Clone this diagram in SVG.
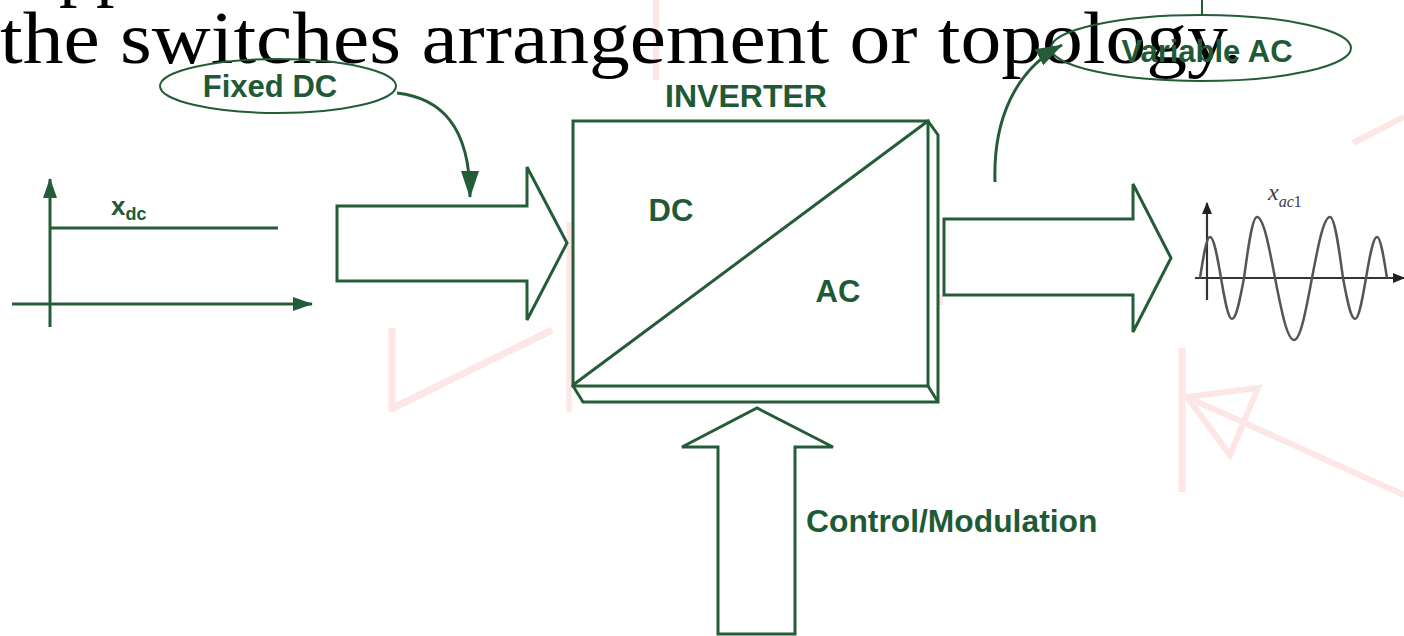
<svg xmlns="http://www.w3.org/2000/svg" width="1404" height="636" viewBox="0 0 1404 636">
  <style>
    .g { fill: none; stroke: #245c38; stroke-width: 3; stroke-linejoin: miter; }
    .gf { fill: #ffffff; stroke: #245c38; stroke-width: 3; stroke-linejoin: miter; }
    .lbl { font-family: "Liberation Sans", Arial, sans-serif; font-weight: bold; fill: #1f5a36; font-size: 31px; }
    .pink { fill: none; stroke: #fde6e6; stroke-width: 6; }
    .title { font-family: "Liberation Serif", "Times New Roman", serif; fill: #000000; font-size: 74px; }
    .ax { stroke: #333333; stroke-width: 2.2; fill: none; }
  </style>
  <defs>
    <marker id="arrG" markerUnits="userSpaceOnUse" markerWidth="28" markerHeight="20" viewBox="0 0 28 20" refX="26" refY="10" orient="auto">
      <path d="M0,1 L27,10 L0,19 Z" fill="#245c38"/>
    </marker>
    <marker id="axG" markerUnits="userSpaceOnUse" markerWidth="20" markerHeight="14" viewBox="0 0 20 14" refX="19" refY="7" orient="auto">
      <path d="M0,0 L20,7 L0,14 Z" fill="#245c38"/>
    </marker>
    <marker id="axK" markerUnits="userSpaceOnUse" markerWidth="12" markerHeight="10" viewBox="0 0 12 10" refX="11" refY="5" orient="auto">
      <path d="M0,0 L12,5 L0,10 Z" fill="#222222"/>
    </marker>
  </defs>

  <rect width="1404" height="636" fill="#ffffff"/>

  <g id="background-traces">
    <line class="pink" x1="656" y1="0" x2="656" y2="80"/>
    <line class="pink" x1="569" y1="222" x2="569" y2="412" style="stroke-width:5"/>
    <line class="pink" x1="392" y1="328" x2="392" y2="412" style="stroke-width:7"/>
    <line class="pink" x1="393" y1="408" x2="552" y2="330" style="stroke-width:7"/>
    <line class="pink" x1="1182" y1="348" x2="1182" y2="492" style="stroke-width:7"/>
    <path class="pink" d="M1187,397 L1258,388 L1230,455 Z"/>
    <line class="pink" x1="1187" y1="397" x2="1404" y2="495"/>
    <line class="pink" x1="1353" y1="143" x2="1404" y2="117"/>
    <rect x="939" y="295" width="4" height="10" fill="#fde6e6"/>
  </g>

  <g id="title">
    <text class="title" x="59" y="-8">pp</text>
    <text class="title" x="0" y="63" textLength="1243" lengthAdjust="spacingAndGlyphs">the switches arrangement or topology.</text>
  </g>

  <g id="dc-graph">
    <line class="g" x1="50" y1="327" x2="50" y2="179" marker-end="url(#axG)"/>
    <line class="g" x1="12" y1="304" x2="312" y2="304" marker-end="url(#axG)"/>
    <line class="g" x1="50" y1="228" x2="278" y2="228"/>
    <text x="111" y="215" font-family="Liberation Sans, Arial, sans-serif" font-weight="bold" font-size="26" fill="#1f5a36">x<tspan font-size="18" dy="5">dc</tspan></text>
  </g>

  <g id="fixed-dc">
    <ellipse class="g" cx="278" cy="86" rx="118" ry="27" style="stroke-width:2"/>
    <text class="lbl" x="270" y="97" text-anchor="middle">Fixed DC</text>
  </g>

  <g id="input-arrow">
    <path class="gf" d="M337,206 H527 V167 L567,243 L527,320 V281 H337 Z"/>
  </g>

  <g id="inverter">
    <text class="lbl" x="746" y="107" text-anchor="middle" style="font-size:32px">INVERTER</text>
    <path class="gf" d="M928,121 L938,135 V402 H583 L573,386 Z"/>
    <rect class="gf" x="573" y="121" width="355" height="265"/>
    <line class="g" x1="573" y1="385" x2="928" y2="121"/>
    <line class="g" x1="928" y1="386" x2="938" y2="402"/>
    <text class="lbl" x="671" y="221" text-anchor="middle">DC</text>
    <text class="lbl" x="838" y="302" text-anchor="middle">AC</text>
  </g>

  <g id="output-arrow">
    <path class="gf" d="M944,219 H1133 V184 L1171,258 L1133,332 V295 H944 Z"/>
  </g>

  <g id="control">
    <path class="gf" d="M718,634 V447 H682 L757,408 L833,447 H795 V634 Z"/>
    <text class="lbl" x="806" y="532" style="font-size:31.8px">Control/Modulation</text>
  </g>

  <g id="variable-ac">
    <line class="g" x1="1202" y1="0" x2="1202" y2="15" style="stroke-width:2"/>
    <ellipse class="g" cx="1201" cy="48" rx="150" ry="33" style="stroke-width:2"/>
    <text class="lbl" x="1207" y="62" text-anchor="middle">Variable AC</text>
  </g>

  <g id="ac-graph">
    <line class="ax" x1="1207" y1="300" x2="1207" y2="203" marker-end="url(#axK)"/>
    <line class="ax" x1="1195" y1="278" x2="1404" y2="278" marker-end="url(#axK)"/>
    <path d="M1200,278 C1203.3,257 1206.4,237 1210,237 C1214,237 1217.4,257 1221,278 C1224.6,299 1228,319 1232,319 C1236.3,319 1240.1,299 1244,278 C1248.2,246.8 1252.3,217 1257,217 C1263.5,217 1269.1,246.8 1275,278 C1281.2,309.7 1287.1,340 1294,340 C1300.5,340 1306.1,309.7 1312,278 C1317.9,246.8 1323.5,217 1330,217 C1334.7,217 1338.8,246.8 1343,278 C1346.9,299 1350.7,319 1355,319 C1359,319 1362.4,299 1366,278 C1369.6,257 1373,237 1377,237 C1380.6,237 1383.7,257 1387,278" fill="none" stroke="#555555" stroke-width="2.5"/>
    <text x="1268" y="200" font-family="Liberation Serif, Times New Roman, serif" font-style="italic" font-size="24" fill="#3c3a48">x<tspan font-size="16" dy="7">ac</tspan><tspan font-size="16" font-style="normal">1</tspan></text>
  </g>

  <g id="connectors">
    <path class="g" d="M397,93 C440,98 470,125 470,197" marker-end="url(#arrG)"/>
    <path class="g" d="M995,182 C993,120 1015,70 1062,45" marker-end="url(#arrG)"/>
  </g>
</svg>
